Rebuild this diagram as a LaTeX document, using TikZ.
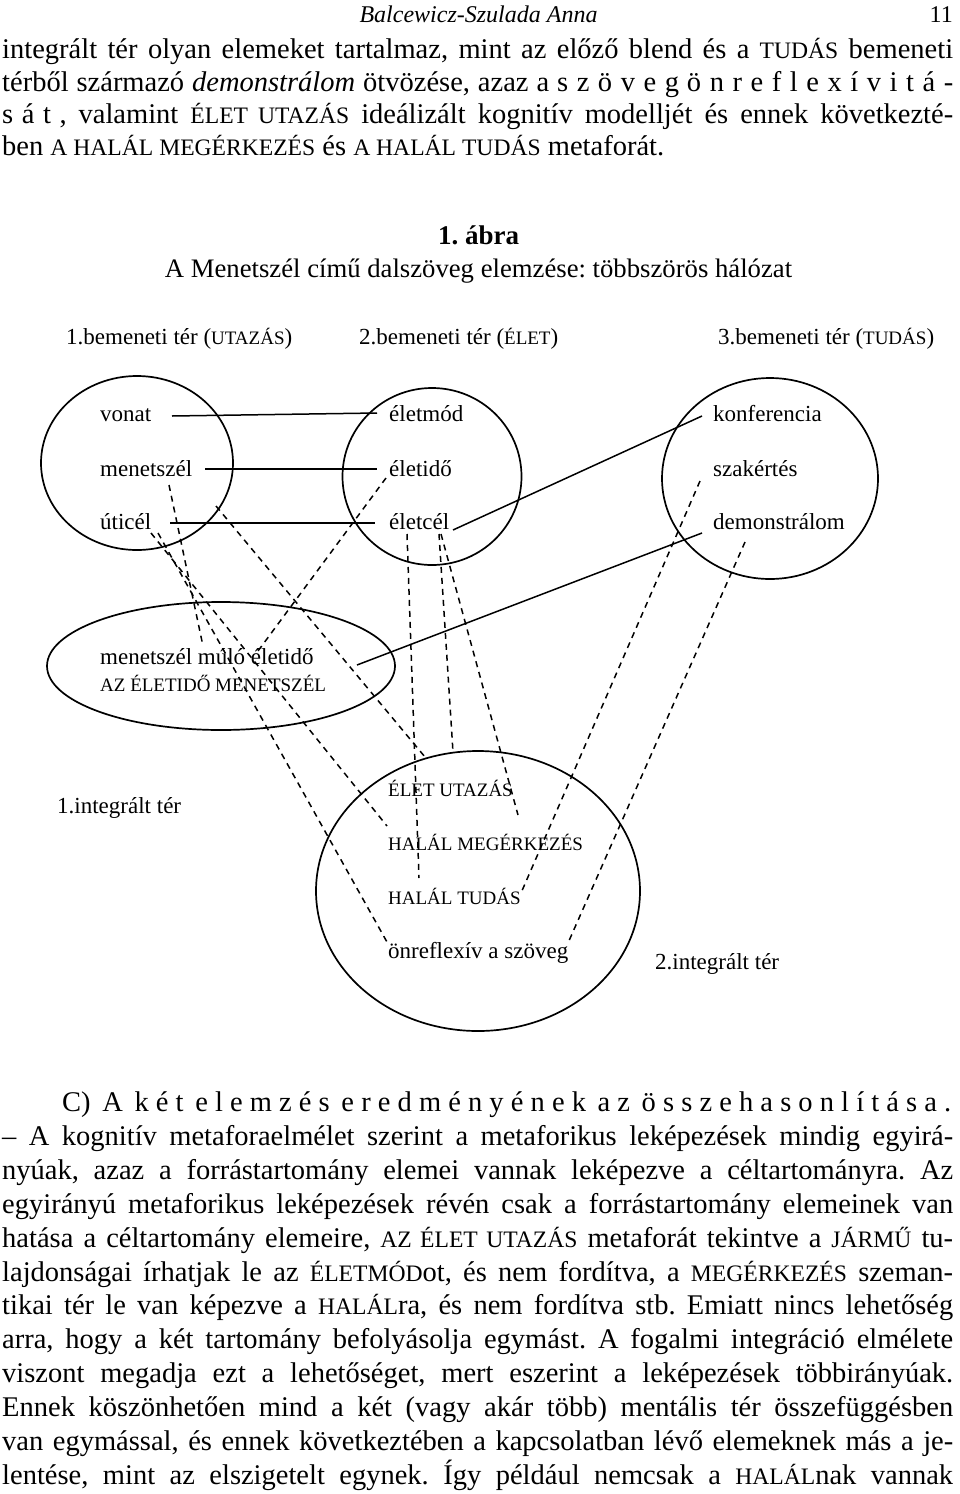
\documentclass[tikz,border=0pt]{standalone}
\usepackage{fontspec}
\setmainfont{Liberation Serif}
\usetikzlibrary{shapes.geometric}
\frenchspacing
\def\lspk{.3em}
\def\lspA#1#2{#1\ifx\relax#2\else\kern\lspk\expandafter\lspA\fi#2}
\newcommand\lsp[1]{\lspA#1\relax\relax}
\newcommand\bsc[1]{{\fontsize{23.6}{33}\selectfont #1}}
\newcommand\dsc[1]{{\fontsize{19}{23}\selectfont #1}}
\begin{document}
\begin{tikzpicture}[x=1pt,y=-1pt,
  ring/.style={draw, ellipse, line width=1.7pt, inner sep=0pt},
  lab/.style={anchor=base west, inner sep=0pt, font=\fontsize{23}{27}\selectfont},
  capl/.style={anchor=base west, inner sep=0pt, font=\fontsize{19}{23}\selectfont},
  bl/.style={anchor=base west, inner sep=0pt, font=\fontsize{28.5}{33}\selectfont},
  conn/.style={line width=1.5pt},
  dconn/.style={line width=1.5pt, dash pattern=on 6pt off 5pt},
]
\fill[white] (0,0) rectangle (960,1494);
\useasboundingbox (0,0) rectangle (960,1494);

% page header
\node[anchor=base, inner sep=0pt, font=\fontsize{24}{28}\selectfont\itshape] (head) at (478.5,22) {Balcewicz-Szulada Anna};
\node[anchor=base east, inner sep=0pt, font=\fontsize{24}{28}\selectfont] (pnum) at (953,22) {11};

% top paragraph
\node[bl] (t1) at (2,58) {\makebox[951pt][s]{integrált tér olyan elemeket tartalmaz, mint az előző blend és a \bsc{TUDÁS} bemeneti}};
\node[bl] (t2) at (2,91) {\makebox[951pt][s]{térből származó \textit{demonstrálom} ötvözése, azaz a \lsp{szöveg} \lsp{önreflexívitá-}}};
\node[bl] (t3) at (2,123) {\makebox[951pt][s]{\lsp{sát,} valamint \bsc{ÉLET UTAZÁS} ideálizált kognitív modelljét és ennek következté-}};
\node[bl] (t4) at (2,155) {ben \bsc{A HALÁL MEGÉRKEZÉS} és \bsc{A HALÁL TUDÁS} metaforát.};

% figure title
\node[anchor=base, inner sep=0pt, font=\fontsize{27}{31}\selectfont\bfseries] (fig) at (478.5,244) {1. ábra};
\node[anchor=base, inner sep=0pt, font=\fontsize{26.7}{31}\selectfont] (cap) at (478.5,277) {A Menetszél című dalszöveg elemzése: többszörös hálózat};

% headers of the diagram
\node[lab] (h1) at (66,344) {1.bemeneti tér (\dsc{UTAZÁS})};
\node[lab] (h2) at (359,344) {2.bemeneti tér (\dsc{ÉLET})};
\node[lab] (h3) at (718,344) {3.bemeneti tér (\dsc{TUDÁS})};

% spaces
\node[ring, minimum width=192pt, minimum height=174pt] (c1) at (137,463) {};
\node[ring, minimum width=179pt, minimum height=177pt] (c2) at (432,476.5) {};
\node[ring, minimum width=216pt, minimum height=201pt] (c3) at (770,478.5) {};
\node[ring, minimum width=348pt, minimum height=128pt] (e1) at (221,666) {};
\node[ring, minimum width=324pt, minimum height=280pt] (c4) at (478,891) {};

% labels
\node[lab] (vonat) at (100,421) {vonat};
\node[lab] (menet) at (100,476) {menetszél};
\node[lab] (uticel) at (100,529) {úticél};
\node[lab] (eletmod) at (389,421) {életmód};
\node[lab] (eletido) at (389,476) {életidő};
\node[lab] (eletcel) at (389,529) {életcél};
\node[lab] (konf) at (713,421) {konferencia};
\node[lab] (szak) at (713,476) {szakértés};
\node[lab] (demo) at (713,529) {demonstrálom};
\node[lab] (mme) at (100,664) {menetszél múló életidő};
\node[capl] (azem) at (100,691) {AZ ÉLETIDŐ MENETSZÉL};
\node[lab] (int1) at (57,813) {1.integrált tér};
\node[capl] (eu) at (388,796) {ÉLET UTAZÁS};
\node[capl] (hm) at (388,850) {HALÁL MEGÉRKEZÉS};
\node[capl] (ht) at (388,904) {HALÁL TUDÁS};
\node[lab] (onr) at (388,958) {önreflexív a szöveg};
\node[lab] (int2) at (655,969) {2.integrált tér};

% connector end points
\coordinate (p1a) at (172,416); \coordinate (p1b) at (377,413);
\coordinate (p2a) at (205,469); \coordinate (p2b) at (377,469);
\coordinate (p3a) at (170,523); \coordinate (p3b) at (375,523);
\coordinate (p4a) at (453,530); \coordinate (p4b) at (702,416);
\coordinate (p5a) at (357,665); \coordinate (p5b) at (702,533);

\coordinate (d1a) at (169,485); \coordinate (d1b) at (203,646);
\coordinate (d2a) at (151,533); \coordinate (d2b) at (387,826);
\coordinate (d3a) at (158,533); \coordinate (d3b) at (387,942);
\coordinate (d4a) at (216,506); \coordinate (d4b) at (425,757);
\coordinate (d5a) at (386,478); \coordinate (d5b) at (258,651);
\coordinate (v1a) at (407,534); \coordinate (v1b) at (419,878);
\coordinate (v2a) at (439,534); \coordinate (v2b) at (453,752);
\coordinate (v3a) at (441,534); \coordinate (v3b) at (518,815);
\coordinate (s1a) at (700,481); \coordinate (s1b) at (521,893);
\coordinate (s2a) at (745,542); \coordinate (s2b) at (568,943);

% solid mappings
\draw[conn] (p1a) -- (p1b);
\draw[conn] (p2a) -- (p2b);
\draw[conn] (p3a) -- (p3b);
\draw[conn] (p4a) -- (p4b);
\draw[conn] (p5a) -- (p5b);

% dashed projections
\draw[dconn] (d1a) -- (d1b);
\draw[dconn] (d2a) -- (d2b);
\draw[dconn] (d3a) -- (d3b);
\draw[dconn] (d4a) -- (d4b);
\draw[dconn] (d5a) -- (d5b);
\draw[dconn] (v1a) -- (v1b);
\draw[dconn] (v2a) -- (v2b);
\draw[dconn] (v3a) -- (v3b);
\draw[dconn] (s1a) -- (s1b);
\draw[dconn] (s2a) -- (s2b);

% bottom paragraph
\def\lspk{.25em}
\node[bl] (b1) at (62,1111) {\makebox[889pt][s]{C) \lsp{A} \lsp{két} \lsp{elemzés} \lsp{eredményének} \lsp{az} \lsp{összehasonlítása.}}};
\node[bl] (b2) at (2,1145) {\makebox[951pt][s]{– A kognitív metaforaelmélet szerint a metaforikus leképezések mindig egyirá-}};
\node[bl] (b3) at (2,1179) {\makebox[951pt][s]{nyúak, azaz a forrástartomány elemei vannak leképezve a céltartományra. Az}};
\node[bl] (b4) at (2,1213) {\makebox[951pt][s]{egyirányú metaforikus leképezések révén csak a forrástartomány elemeinek van}};
\node[bl] (b5) at (2,1247) {\makebox[951pt][s]{hatása a céltartomány elemeire, \bsc{AZ ÉLET UTAZÁS} metaforát tekintve a \bsc{JÁRMŰ} tu-}};
\node[bl] (b6) at (2,1281) {\makebox[951pt][s]{lajdonságai írhatjak le az \bsc{ÉLETMÓD}ot, és nem fordítva, a \bsc{MEGÉRKEZÉS} szeman-}};
\node[bl] (b7) at (2,1314) {\makebox[951pt][s]{tikai tér le van képezve a \bsc{HALÁL}ra, és nem fordítva stb. Emiatt nincs lehetőség}};
\node[bl] (b8) at (2,1348) {\makebox[951pt][s]{arra, hogy a két tartomány befolyásolja egymást. A fogalmi integráció elmélete}};
\node[bl] (b9) at (2,1382) {\makebox[951pt][s]{viszont megadja ezt a lehetőséget, mert eszerint a leképezések többirányúak.}};
\node[bl] (b10) at (2,1416) {\makebox[951pt][s]{Ennek köszönhetően mind a két (vagy akár több) mentális tér összefüggésben}};
\node[bl] (b11) at (2,1450) {\makebox[951pt][s]{van egymással, és ennek következtében a kapcsolatban lévő elemeknek más a je-}};
\node[bl] (b12) at (2,1484) {\makebox[951pt][s]{lentése, mint az elszigetelt egynek. Így például nemcsak a \bsc{HALÁL}nak vannak}};
\end{tikzpicture}
\end{document}
